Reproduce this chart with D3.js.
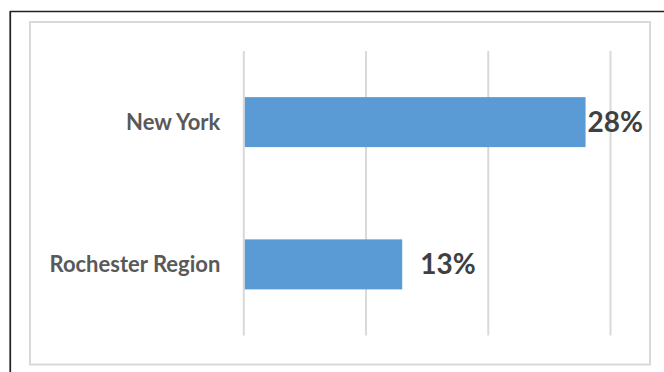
<!DOCTYPE html>
<html>
<head>
<meta charset="utf-8">
<script src="https://cdn.jsdelivr.net/npm/d3@7"></script>
<style>
  html, body { margin: 0; padding: 0; background: #fff; }
  svg { display: block; }
  text { font-family: Lato, "Open Sans", sans-serif; font-weight: bold; }
</style>
</head>
<body>
<svg id="chart" width="664" height="372"></svg>
<script>
// Share of population, by area
const categories = ["New York", "Rochester Region"];
const values = [28, 13];
const xTicks = [0, 10, 20, 30];

const svg = d3.select("#chart");

// Frame: dark rule along top and left, light box around the chart area
svg.append("line").attr("x1", 10).attr("y1", 11.5).attr("x2", 664).attr("y2", 11.5)
  .attr("stroke", "#222").attr("stroke-width", 1.5);
svg.append("line").attr("x1", 10.25).attr("y1", 11).attr("x2", 10.25).attr("y2", 372)
  .attr("stroke", "#222").attr("stroke-width", 1.75);
svg.append("rect").attr("x", 30).attr("y", 22).attr("width", 620).attr("height", 342.5)
  .attr("fill", "none").attr("stroke", "#d9d9d9").attr("stroke-width", 2);

const plot = { left: 243.3, right: 610, top: 51, bottom: 335.5 };

const x = d3.scaleLinear().domain([0, 30]).range([plot.left, plot.right]);
const pad = 0.6485;
const y = d3.scaleBand().domain(categories).range([plot.top, plot.bottom])
  .paddingInner(pad).paddingOuter(pad / 2);

// Vertical gridlines
svg.append("g")
  .attr("transform", `translate(0,${plot.bottom})`)
  .call(d3.axisBottom(x).tickValues(xTicks).tickSize(-(plot.bottom - plot.top)).tickFormat(""))
  .call(g => g.select(".domain").remove())
  .call(g => g.selectAll(".tick line").attr("stroke", "#d9d9d9").attr("stroke-width", 2));

// Bars
svg.append("g").selectAll("rect")
  .data(values)
  .join("rect")
  .attr("x", x(0) + 1.5)
  .attr("y", (d, i) => y(categories[i]))
  .attr("width", d => x(d) - x(0) - 1.5)
  .attr("height", y.bandwidth())
  .attr("fill", "#5b9bd5");

// Category labels
svg.append("g")
  .attr("transform", `translate(${plot.left - 23},0)`)
  .call(d3.axisLeft(y).tickSize(0).tickPadding(0))
  .call(g => g.select(".domain").remove())
  .call(g => g.selectAll(".tick text")
    .attr("fill", "#595959")
    .attr("dy", "0.34em")
    .style("font-size", "22px")
    .style("font-family", "Lato, 'Open Sans', sans-serif")
    .style("font-weight", "bold"));

// Value labels
svg.append("g").selectAll("text")
  .data(values)
  .join("text")
  .attr("x", (d, i) => x(d) + (i === 0 ? 2 : 18))
  .attr("y", (d, i) => y(categories[i]) + y.bandwidth() / 2)
  .attr("dy", "0.35em")
  .attr("fill", "#404040")
  .style("font-size", "28px")
  .text(d => d + "%");
</script>
</body>
</html>
